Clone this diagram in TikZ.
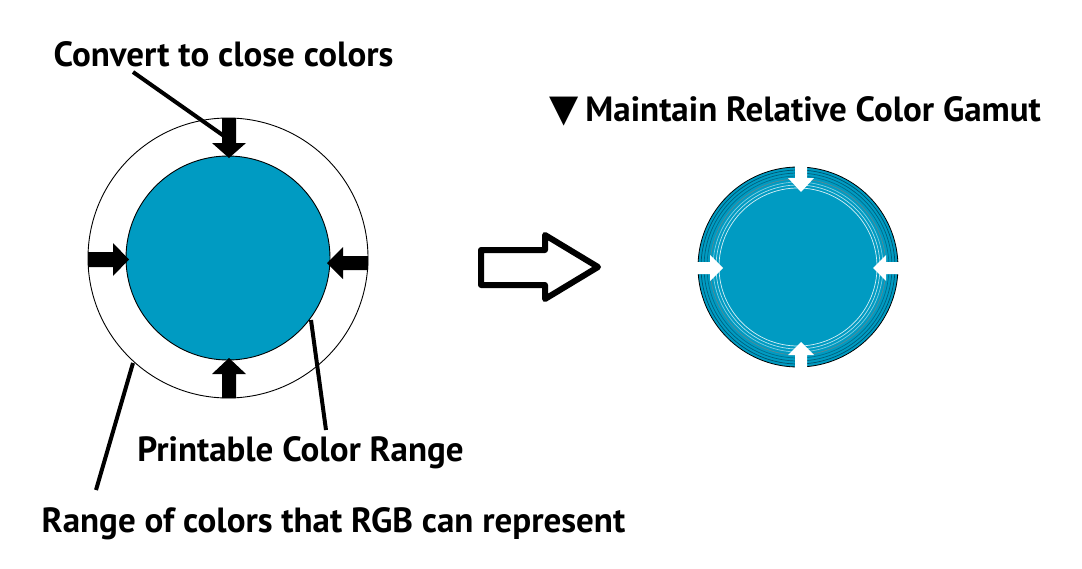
\documentclass[tikz,border=0pt]{standalone}
\usepackage{fontspec}
\setmainfont{PT Sans}
\newfontfamily\symfont{DejaVu Sans}
\definecolor{teal1}{RGB}{0,155,194}
\definecolor{tealdark}{RGB}{0,80,105}
\begin{document}
\begin{tikzpicture}[x=1pt,y=-1pt,
  lbl/.style={font=\fontsize{35}{39}\selectfont\bfseries, inner sep=0pt, anchor=base},
  callout/.style={line width=4pt},
  blockarrow/.style={fill=black},
  whitearrow/.style={fill=white},
  ring/.style={line width=0.7pt}]
\useasboundingbox (0,0) rectangle (1082,568);
% left circles
\node[circle, draw=black, line width=0.9pt, minimum size=280pt, inner sep=0pt] (rgb) at (228,258) {};
\node[circle, draw=black, fill=teal1, line width=0.9pt, minimum size=204pt, inner sep=0pt] (print) at (228,258) {};
% black arrows
\fill[blockarrow] (222,118) -- (236,118) -- (236,143) -- (246,143) -- (229,158) -- (212,143) -- (222,143) -- cycle;
\fill[blockarrow] (222,398) -- (236,398) -- (236,374) -- (246,374) -- (229,358) -- (212,374) -- (222,374) -- cycle;
\fill[blockarrow] (88,252) -- (113,252) -- (113,243) -- (129,259.5) -- (113,276) -- (113,267) -- (88,267) -- cycle;
\fill[blockarrow] (368,256) -- (343,256) -- (343,247) -- (327,263) -- (343,279) -- (343,270) -- (368,270) -- cycle;
% labels
\node[lbl] (t1) at (223.5,66.5) {Convert to close colors};
\node[lbl] (t2) at (300.5,461.7) {Printable Color Range};
\node[lbl] (t3) at (333.5,532.7) {Range of colors that RGB can represent};
\node[lbl, anchor=base west] (t4) at (549,121.7) {{\symfont\fontsize{38}{40}\selectfont ▼}\hspace{7pt}Maintain Relative Color Gamut};
% callout lines
\coordinate (c1a) at (133,72); \coordinate (c1b) at (224,136);
\coordinate (c2a) at (311,320); \coordinate (c2b) at (326,430);
\coordinate (c3a) at (133,363); \coordinate (c3b) at (96,490);
\draw[callout] (c1a) -- (c1b);
\draw[callout] (c2a) -- (c2b);
\draw[callout] (c3a) -- (c3b);
% big hollow arrow
\draw[line width=6pt, line join=round] (481,250) -- (545,250) -- (545,235) -- (598,267) -- (545,299) -- (545,285) -- (481,285) -- cycle;
% right circle
\node[circle, fill=teal1, minimum size=200pt, inner sep=0pt] (rel) at (798,267) {};
\foreach \r/\c in {97/tealdark,94/tealdark!80!teal1,91/tealdark!60!teal1,88/gray!70!teal1,85/white!50!teal1,82/white!70!teal1,79/white!85!teal1}{
  \draw[ring, \c] (rel.center) circle (\r pt);
}
\draw[line width=0.8pt] (rel.center) circle (100pt);
% white arrows
\fill[whitearrow] (795,166) -- (807,166) -- (807,178) -- (814,178) -- (801,192) -- (788,178) -- (795,178) -- cycle;
\fill[whitearrow] (795,368) -- (807,368) -- (807,355) -- (814,355) -- (801,342) -- (788,355) -- (795,355) -- cycle;
\fill[whitearrow] (697,262) -- (710,262) -- (710,255) -- (723,268) -- (710,281) -- (710,274) -- (697,274) -- cycle;
\fill[whitearrow] (899,262) -- (886,262) -- (886,255) -- (873,268) -- (886,281) -- (886,274) -- (899,274) -- cycle;
\end{tikzpicture}
\end{document}
